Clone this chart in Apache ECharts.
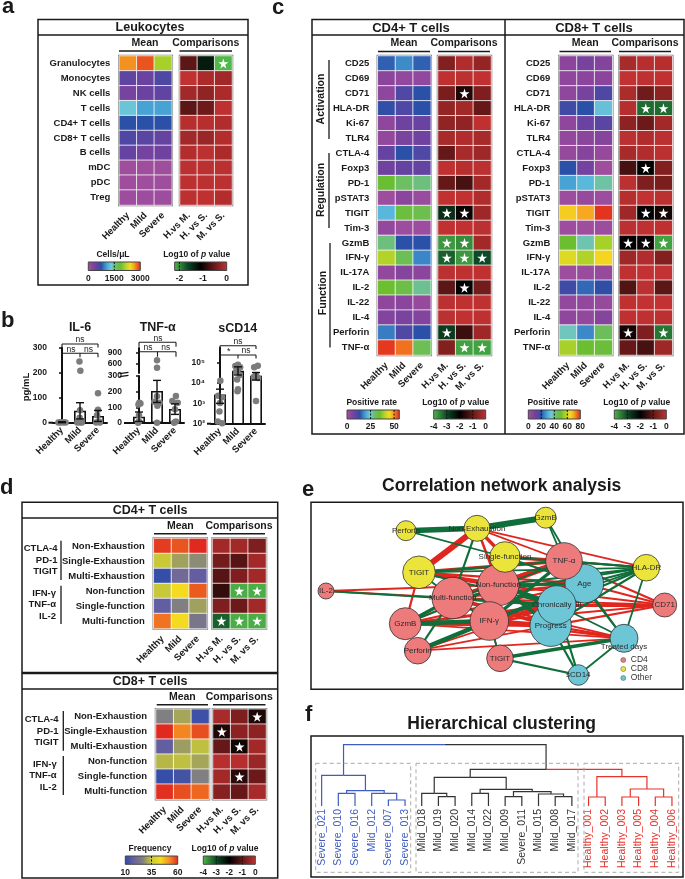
<!DOCTYPE html>
<html>
<head>
<meta charset="utf-8">
<style>
  html, body { margin: 0; padding: 0; background: #fff; }
  #chart { width: 685px; height: 879px; }
</style>
<script src="https://cdn.jsdelivr.net/npm/echarts@6/dist/echarts.min.js"></script>
</head>
<body>
<div id="chart"></div>
<script>
// ---- data ----
const groupCols = ['Healthy', 'Mild', 'Severe']
const compCols = ['H.vs M.', 'H. vs S.', 'M. vs S.']

// panel a
const leukoRows = ['Granulocytes', 'Monocytes', 'NK cells', 'T cells', 'CD4+ T cells', 'CD8+ T cells', 'B cells', 'mDC', 'pDC', 'Treg']
const leukoMean = [[2670, 2850, 2100], [510, 450, 600], [360, 450, 510], [1290, 1080, 1080], [750, 750, 750], [600, 540, 480], [480, 390, 420], [60, 60, 60], [60, 60, 60], [90, 90, 90]]
const leukoComp = [[-0.6, -1.3, -2.2], [-0.02, -0.15, -0.2], [-0.2, -0.3, -0.15], [-0.6, -0.5, -0.03], [-0.08, -0.08, -0.12], [-0.2, -0.25, -0.1], [-0.1, -0.05, -0.15], [-0.05, -0.05, -0.05], [-0.05, -0.05, -0.05], [-0.05, -0.03, -0.1]]
const leukoStars = [[2, 0]]

// panel b
const il6Bars = [2, 48, 27]
const il6Err = [[0, 0, 4], [1, 15, 80], [2, 5, 49]]
const il6Points = [[-0.2, 1], [-0.1, 2], [0, 1], [0.1, 2], [0.2, 1], [0.97, 245], [1.02, 208], [1, 50], [0.98, 20], [0.85, 1], [1.1, 1], [1, 1], [2, 118], [2, 52], [1.95, 30], [2.05, 5], [1.9, 1], [2.1, 1]]
const tnfBars = [40, 205, 90]
const tnfErr = [[0, 10, 70], [1, 131, 272], [2, 55, 122]]
const tnfLowPoints = [[0.02, 130], [0.08, 125], [-0.03, 118], [0, 50], [0, 10], [-0.05, 1], [1, 170], [0.85, 135], [1.15, 130], [1.02, 110], [1, 1], [2.05, 172], [1.85, 140], [2.15, 130], [2, 88], [2.05, 10], [1.95, 1]]
const tnfHighPoints = [[1, 700], [1, 500]]
const scdBars = [2700, 40000, 23000]
const scdErr = [[0, 1000, 5000], [1, 25000, 63000], [2, 14000, 33000]]
const scdPoints = [[0.02, 13000], [-0.1, 2400], [0.12, 2000], [0, 1050], [-0.03, 400], [-0.12, 130], [0.12, 105], [1, 80000], [0.85, 70000], [1.12, 60000], [1, 48000], [0.9, 38000], [1.1, 25000], [0.95, 15000], [1, 5000], [0.97, 4000], [2.1, 72000], [1.9, 60000], [2, 25000], [1.88, 20000], [2.12, 18000], [2, 1300]]

// panel c
const tcellRows = ['CD25', 'CD69', 'CD71', 'HLA-DR', 'Ki-67', 'TLR4', 'CTLA-4', 'Foxp3', 'PD-1', 'pSTAT3', 'TIGIT', 'Tim-3', 'GzmB', 'IFN-γ', 'IL-17A', 'IL-2', 'IL-22', 'IL-4', 'Perforin', 'TNF-α']
const cd4Mean = [[15, 18, 15], [4.4, 3.3, 3.3], [3.9, 11, 13.8], [13.2, 11, 13.8], [3.9, 7.7, 8.3], [3.3, 6.6, 7.7], [8.8, 13.8, 11], [7.7, 8.8, 8.8], [34, 30, 28.6], [1.7, 4.4, 2.2], [22, 33, 31.4], [3.3, 1.7, 1.7], [28.6, 13.8, 13.8], [39.6, 30.8, 17.6], [3.3, 5, 4.4], [34.7, 31.9, 27.5], [3.9, 4.4, 2.8], [5.5, 6.6, 5.5], [17, 11, 13.8], [54.5, 51, 30.8]]
const cd4Comp = [[-0.7, -0.2, -0.5], [-0.05, -0.1, -0.03], [-0.8, -1.7, -0.75], [-0.5, -0.35, -1], [-0.55, -0.55, -0.05], [-0.3, -0.2, -0.3], [-1, -0.3, -0.4], [-0.05, -0.15, -0.1], [-1, -1.3, -0.35], [-0.03, -0.03, -0.2], [-2.6, -1.9, -0.4], [-0.03, -0.03, -0.1], [-3.7, -3.6, -0.35], [-3.2, -3.7, -3], [-0.1, -0.05, -0.05], [-1.1, -2, -0.85], [-0.1, -0.05, -0.05], [-0.1, -0.03, -0.05], [-2.8, -1.4, -0.4], [-0.7, -3.8, -3.8]]
const cd4Stars = [[1, 2], [0, 10], [1, 10], [0, 12], [1, 12], [0, 13], [1, 13], [2, 13], [1, 15], [0, 18], [1, 19], [2, 19]]
const cd8Mean = [[6.4, 9.6, 8], [5.6, 6.4, 6.4], [5.6, 9.6, 16], [17.6, 20, 33.6], [5.6, 12, 14.4], [4.8, 6.4, 7.2], [4, 7.2, 4], [20, 10.4, 1.6], [28.8, 32, 38.4], [2.4, 4, 2.4], [65.6, 69.6, 79], [2.4, 1.6, 2.4], [49.6, 37.6, 56], [61.6, 56.8, 64.8], [2.4, 3.2, 4], [17.6, 22.4, 19.2], [4.8, 4.8, 4], [5.6, 4.8, 7.2], [36.8, 25.6, 44], [56, 49.6, 48]]
const cd8Comp = [[-0.3, -0.15, -0.15], [-0.02, -0.05, -0.03], [-0.25, -0.9, -0.6], [-0.15, -3.3, -3.3], [-0.6, -0.95, -0.35], [-0.1, -0.2, -0.1], [-0.3, -0.2, -0.1], [-1.3, -2, -0.7], [-0.1, -0.75, -0.8], [-0.15, -0.02, -0.1], [-0.4, -2, -1.8], [-0.1, -0.05, -0.05], [-2, -1.9, -3.8], [-0.4, -0.2, -0.7], [-0.05, -0.02, -0.02], [-1.2, -0.1, -1.1], [-0.05, -0.02, -0.02], [-0.05, -0.05, -0.1], [-1.8, -0.75, -3.4], [-1, -1.3, -0.4]]
const cd8Stars = [[1, 3], [2, 3], [1, 7], [1, 10], [2, 10], [0, 12], [1, 12], [2, 12], [0, 18], [2, 18]]

// panel d
const funcRows = ['Non-Exhaustion', 'Single-Exhaustion', 'Multi-Exhaustion', 'Non-function', 'Single-function', 'Multi-function']
const funcCd4Mean = [[58.5, 56.5, 60], [35, 30.5, 28], [11.5, 21, 17.5], [35, 43.5, 56], [17.5, 26.5, 30.5], [54, 43.5, 24]]
const funcCd4Comp = [[-0.35, -0.35, -0.75], [-0.85, -1.15, -0.35], [-1.15, -0.75, -0.35], [-1.5, -3.9, -3.9], [-0.75, -0.95, -0.35], [-3.2, -3.9, -3.9]]
const funcCd4Stars = [[1, 3], [2, 3], [0, 5], [1, 5], [2, 5]]
const funcCd8Mean = [[26.5, 31, 12.5], [60, 52.5, 57], [17.5, 30, 34], [33, 34, 31], [11.5, 13.5, 26.5], [59.5, 57, 55]]
const funcCd8Comp = [[-0.3, -0.75, -1.7], [-1.7, -0.6, -0.6], [-1, -1.8, -0.35], [-0.15, -0.15, -0.45], [-0.35, -1.6, -0.95], [-0.65, -1, -0.3]]
const funcCd8Stars = [[2, 0], [0, 1], [1, 2], [1, 4]]

// panel e, nodes listed back to front
const netIds = ['Prog', 'Age', 'CI', 'TD', 'sCD14', 'CD71', 'TNF', 'MF', 'NF', 'IFN', 'Gz4', 'Per4', 'TIG4', 'IL2', 'Per8', 'NE', 'Gz8', 'TIG8', 'SF', 'HLA']
const netLabels = ['Progress', 'Age', 'Chronically  ill', 'Treated days', 'sCD14', 'CD71', 'TNF-α', 'Multi-function', 'Non-function', 'IFN-γ', 'GzmB', 'Perforin', 'TIGIT', 'IL-2', 'Perforin', 'Non-Exhaustion', 'GzmB', 'TIGIT', 'Single-function', 'HLA-DR']
const netGroups = [2, 2, 2, 2, 2, 0, 0, 0, 0, 0, 0, 0, 0, 0, 1, 1, 1, 1, 1, 1]
const netX = [239.7, 273.3, 245.7, 313, 267.3, 353.7, 253, 141.7, 187.3, 178.3, 94.3, 106.7, 189, 15, 95, 166, 234.7, 108, 194, 335.3]
const netY = [123.7, 81.7, 103, 136.3, 173, 103, 59, 96, 83, 119, 121.7, 148.7, 156.3, 89, 28.7, 26.3, 15.7, 70.3, 55, 65.7]
const netDegree = [20.7, 19.3, 19.3, 14, 10.3, 12, 18.3, 20.7, 20.7, 19.3, 16, 13.3, 13.3, 8, 10, 13, 10.5, 16.3, 15.3, 13.3]
const netRed = [['NE', 'TIG8', 6], ['NE', 'SF', 3.5], ['NE', 'NF', 2.5], ['NE', 'TNF', 1.8], ['NE', 'HLA', 1.8], ['TIG8', 'NF', 4.5], ['TIG8', 'TNF', 3.5], ['TIG8', 'Gz4', 2.2], ['TIG8', 'Age', 2.2], ['SF', 'TNF', 3.5], ['SF', 'NF', 2.2], ['IL2', 'MF', 1.8], ['IL2', 'NF', 1.8], ['TNF', 'NF', 6], ['TNF', 'MF', 3.5], ['TNF', 'CD71', 2.2], ['TNF', 'HLA', 1.8], ['Age', 'NF', 3.5], ['Age', 'MF', 3], ['Age', 'CD71', 2.2], ['CI', 'MF', 3.5], ['CI', 'IFN', 4.5], ['CI', 'Gz4', 3], ['CI', 'CD71', 3], ['Prog', 'IFN', 4.5], ['Prog', 'MF', 3.5], ['Prog', 'Gz4', 3], ['Prog', 'Per4', 1.8], ['Prog', 'CD71', 2.2], ['Prog', 'TD', 2.2], ['IFN', 'CD71', 2.2], ['IFN', 'TD', 2.2], ['IFN', 'Gz4', 3.5], ['Gz4', 'NF', 1.8], ['Gz4', 'TD', 1.8], ['Gz4', 'Age', 2.2], ['Per4', 'TD', 1.8], ['Per4', 'CI', 1.8], ['MF', 'TD', 1.8], ['MF', 'CD71', 1.8], ['NF', 'CD71', 1.8], ['TIG4', 'IFN', 1.8]]
const netGreen = [['Per8', 'NE', 5.5], ['NE', 'Gz8', 6], ['Per8', 'SF', 1.8], ['Gz8', 'TNF', 1.8], ['Gz8', 'Age', 1.8], ['NE', 'MF', 2.2], ['SF', 'NF', 2.2], ['SF', 'HLA', 1.8], ['SF', 'Age', 2.2], ['TIG8', 'HLA', 1.8], ['TIG8', 'TNF', 2.2], ['TIG8', 'MF', 1.8], ['TIG8', 'CI', 2.2], ['IL2', 'CI', 2.2], ['TNF', 'HLA', 2.2], ['Age', 'HLA', 2.2], ['CI', 'HLA', 2.2], ['Prog', 'HLA', 2.2], ['NF', 'HLA', 2.2], ['MF', 'HLA', 1.8], ['IFN', 'HLA', 1.8], ['HLA', 'TD', 1.8], ['IFN', 'TNF', 3.5], ['IFN', 'Age', 3.5], ['NF', 'CI', 4.5], ['NF', 'Prog', 3.5], ['NF', 'Age', 2.2], ['MF', 'NF', 2.2], ['MF', 'IFN', 2.2], ['MF', 'CI', 2.2], ['IFN', 'NF', 2.2], ['Gz4', 'IFN', 4.5], ['Gz4', 'MF', 3.5], ['Gz4', 'TNF', 1.8], ['Per4', 'MF', 2.2], ['Per4', 'IFN', 4.5], ['TIG4', 'TD', 3.5], ['TIG4', 'sCD14', 2.2], ['TIG4', 'IFN', 1.8], ['Prog', 'sCD14', 2.2], ['CI', 'sCD14', 2.2], ['TD', 'sCD14', 1.8], ['CI', 'TD', 1.8], ['Age', 'TD', 1.8], ['TNF', 'TD', 1.8]]
const netClasses = ['CD4', 'CD8', 'Other']

// panel f
const dendroLeaves = ['Severe_021', 'Severe_010', 'Severe_016', 'Mild_012', 'Severe_007', 'Severe_013', 'Mild_018', 'Mild_019', 'Mild_020', 'Mild_014', 'Mild_022', 'Mild_009', 'Severe_011', 'Mild_015', 'Mild_008', 'Mild_017', 'Healthy_001', 'Healthy_002', 'Healthy_003', 'Healthy_005', 'Healthy_004', 'Healthy_006']
const dendroCluster = [0, 0, 0, 0, 0, 0, 1, 1, 1, 1, 1, 1, 1, 1, 1, 1, 2, 2, 2, 2, 2, 2]
// [left child, right child, height, left colour cluster, right colour cluster]; ids from 22 up are earlier merges
const dendroMerges = [
  [1, 2, 38, 0, 0], [4, 5, 18, 0, 0], [3, 23, 38, 0, 0], [22, 24, 46, 0, 0], [0, 25, 92, 0, 0],
  [7, 8, 28, 1, 1], [6, 27, 38, 1, 1], [9, 10, 38, 1, 1], [11, 12, 28, 1, 1], [14, 15, 28, 1, 1],
  [13, 31, 36, 1, 1], [30, 32, 43, 1, 1], [29, 33, 50, 1, 1], [28, 34, 86, 1, 1],
  [16, 17, 27, 2, 2], [18, 19, 27, 2, 2], [20, 21, 27, 2, 2], [37, 38, 51, 2, 2], [36, 39, 88, 2, 2],
  [35, 40, 110, 1, 2], [26, 41, 184, 0, 1]
]

// ---- palettes ----
const FONT = '"Liberation Sans", Arial, sans-serif'
const meanStops = [[0, '#a6519d'], [0.08, '#8b459c'], [0.15, '#6a42a0'], [0.2, '#4e48a4'], [0.25, '#2a50a8'], [0.32, '#3c88c8'], [0.38, '#4eb0dc'], [0.44, '#72c8d6'], [0.5, '#6cc08c'], [0.56, '#6cbe50'], [0.62, '#6abe30'], [0.72, '#b8d428'], [0.8, '#f4dc20'], [0.87, '#f5a820'], [0.92, '#f07020'], [0.96, '#e84a1e'], [1, '#e02a20']]
const freqStops = [[0, '#2a4aa8'], [0.167, '#6a60a0'], [0.333, '#808080'], [0.5, '#c8c838'], [0.667, '#f4dc20'], [0.833, '#f59020'], [1, '#e02a20']]
const pStops = [[0, '#50b848'], [0.25, '#0c4a26'], [0.5, '#000000'], [0.75, '#661818'], [1, '#c43232']]

function evenColors(stops) {
  const out = []
  for (let k = 0; k <= 100; k++) {
    const t = k / 100
    let i = 0
    while (i < stops.length - 2 && t > stops[i + 1][0]) i++
    const a = stops[i]
    const b = stops[i + 1]
    out.push(echarts.color.lerp((t - a[0]) / (b[0] - a[0]), [a[1], b[1]]))
  }
  return out
}

const scales = {
  leukoMean: { min: 0, max: 3000, stops: meanStops, series: [] },
  leukoP: { min: -2.2, max: 0, stops: pStops, series: [] },
  cd4Rate: { min: 0, max: 55.5, stops: meanStops, series: [] },
  cd8Rate: { min: 0, max: 80, stops: meanStops, series: [] },
  freq: { min: 10, max: 60, stops: freqStops, series: [] },
  p: { min: -4, max: 0, stops: pStops, series: [] }
}

// ---- option parts ----
const grids = []
const xAxes = []
const yAxes = []
const series = []
const shapes = []

const STAR = 'path://M50 0 L61 35 L98 35 L68 57 L79 91 L50 70 L21 91 L32 57 L2 35 L39 35 Z'

function txt(x, y, text, size, opt) {
  opt = opt || {}
  shapes.push({
    type: 'text', x: x, y: y, rotation: opt.rotation || 0, z: 20,
    style: {
      text: text, textAlign: opt.align || 'center', textVerticalAlign: 'middle',
      font: (opt.weight || 'bold') + ' ' + size + 'px ' + FONT, fill: opt.color || '#1a1a1a'
    }
  })
}

function line(x1, y1, x2, y2, width, color, dash) {
  shapes.push({
    type: 'line', z: 20, shape: { x1: x1, y1: y1, x2: x2, y2: y2 },
    style: { stroke: color || '#1a1a1a', lineWidth: width || 1, lineDash: dash }
  })
}

function frame(x1, y1, x2, y2, width) {
  shapes.push({
    type: 'rect', z: 20, shape: { x: x1, y: y1, width: x2 - x1, height: y2 - y1 },
    style: { fill: 'none', stroke: '#1a1a1a', lineWidth: width || 1.5 }
  })
}

function heat(left, top, width, height, cols, rows, matrix, scaleKey, stars, labelRight) {
  const g = grids.length
  grids.push({ left: left, top: top, width: width, height: height, show: true, borderColor: '#7a7a7a', borderWidth: 2.5, backgroundColor: 'transparent' })
  xAxes.push({
    type: 'category', gridIndex: g, data: cols, axisLine: { show: false }, axisTick: { show: false }, splitLine: { show: false },
    axisLabel: { rotate: 45, interval: 0, margin: 9, fontFamily: FONT, fontWeight: 'bold', fontSize: 9.5, color: '#1a1a1a' }
  })
  yAxes.push({
    type: 'category', gridIndex: g, data: rows, inverse: true, axisLine: { show: false }, axisTick: { show: false }, splitLine: { show: false },
    axisLabel: { show: !!labelRight, interval: 0, margin: labelRight || 0, fontFamily: FONT, fontWeight: 'bold', fontSize: 9.5, color: '#1a1a1a' }
  })
  const cells = []
  matrix.forEach(function (row, y) {
    row.forEach(function (v, x) { cells.push([x, y, v]) })
  })
  scales[scaleKey].series.push(series.length)
  series.push({
    type: 'heatmap', xAxisIndex: xAxes.length - 1, yAxisIndex: yAxes.length - 1, data: cells, z: 2,
    itemStyle: { borderColor: 'rgba(255,255,255,0.85)', borderWidth: 0.9 }, silent: true
  })
  if (stars) {
    series.push({
      type: 'scatter', xAxisIndex: xAxes.length - 1, yAxisIndex: yAxes.length - 1, data: stars, z: 5,
      symbol: STAR, symbolSize: 10, itemStyle: { color: '#fff', opacity: 1 }, silent: true
    })
  }
}

function colorBar(x1, x2, y1, y2, title, titleX, titleY, scale, stops, ticks, dashes, labelY) {
  const toX = function (v) { return x1 + (v - scale.min) / (scale.max - scale.min) * (x2 - x1) }
  shapes.push({
    type: 'rect', z: 20, shape: { x: x1, y: y1, width: x2 - x1, height: y2 - y1 },
    style: {
      stroke: '#444', lineWidth: 1,
      fill: new echarts.graphic.LinearGradient(0, 0, 1, 0, stops.map(function (s) { return { offset: s[0], color: s[1] } }))
    }
  })
  dashes.forEach(function (v) { line(toX(v), y1, toX(v), y2, 1, '#111', [2, 1.5]) })
  ticks.forEach(function (v) { txt(toX(v), labelY, String(v), 8.5) })
  if (title === 'log') {
    // the italic p needs its own run of text
    shapes.push({
      type: 'text', z: 20, x: titleX, y: titleY,
      style: {
        text: '{b|Log10 of }{i|p}{b| value}', textAlign: 'center', textVerticalAlign: 'middle',
        rich: {
          b: { font: 'bold 8.5px ' + FONT, fill: '#1a1a1a' },
          i: { font: 'italic bold 8.5px ' + FONT, fill: '#1a1a1a' }
        }
      }
    })
  } else {
    txt(titleX, titleY, title, 8.5)
  }
}

function matrixHeader(meanX1, meanX2, compX1, compX2, textY, ruleY) {
  txt((meanX1 + meanX2) / 2, textY, 'Mean', 10.5)
  txt((compX1 + compX2) / 2, textY, 'Comparisons', 10.5)
  line(meanX1, ruleY, meanX2, ruleY, 1.4)
  line(compX1, ruleY, compX2, ruleY, 1.4)
}

// one bar panel: visible category axis and a hidden value axis for jittered points and whiskers
function barAxes(left, top, height, yAxis, showX) {
  const g = grids.length
  grids.push({ left: left, top: top, width: 54, height: height })
  xAxes.push({
    type: 'category', gridIndex: g, data: groupCols, show: showX,
    axisLine: { onZero: false, lineStyle: { color: '#111', width: 2 } }, axisTick: { show: false },
    axisLabel: { rotate: 45, interval: 0, margin: 6, fontFamily: FONT, fontWeight: 'bold', fontSize: 9.5, color: '#1a1a1a' }
  })
  const xCat = xAxes.length - 1
  xAxes.push({ type: 'value', gridIndex: g, min: -0.5, max: 2.5, show: false })
  yAxes.push(Object.assign({
    gridIndex: g, axisLine: { show: true, lineStyle: { color: '#111', width: 2 } },
    axisTick: { show: true, length: 3, lineStyle: { color: '#111', width: 1.5 } }, splitLine: { show: false }
  }, yAxis))
  return { xCat: xCat, xVal: xCat + 1, y: yAxes.length - 1 }
}

function bars(ax, values, errs, points) {
  series.push({
    type: 'bar', xAxisIndex: ax.xCat, yAxisIndex: ax.y, data: values, barWidth: 12, z: 2, silent: true,
    itemStyle: { color: '#fff', borderColor: '#111', borderWidth: 1.6 }
  })
  dots(ax, points)
  series.push({
    type: 'custom', xAxisIndex: ax.xVal, yAxisIndex: ax.y, data: errs, z: 4, silent: true,
    encode: { x: 0, y: [1, 2] },
    renderItem: function (params, api) {
      const low = api.coord([api.value(0), api.value(1)])
      const high = api.coord([api.value(0), api.value(2)])
      const st = { stroke: '#111', lineWidth: 1.4, fill: 'none' }
      return {
        type: 'group', children: [
          { type: 'line', shape: { x1: low[0], y1: low[1], x2: high[0], y2: high[1] }, style: st },
          { type: 'line', shape: { x1: low[0] - 4, y1: low[1], x2: low[0] + 4, y2: low[1] }, style: st },
          { type: 'line', shape: { x1: high[0] - 4, y1: high[1], x2: high[0] + 4, y2: high[1] }, style: st }
        ]
      }
    }
  })
}

function dots(ax, points) {
  series.push({
    type: 'scatter', xAxisIndex: ax.xVal, yAxisIndex: ax.y, data: points, z: 3, silent: true,
    symbolSize: 6.5, clip: false, itemStyle: { color: '#7c7c7c', opacity: 1 }
  })
}

function bracket(x1, x2, y, drop, center) {
  line(x1, y, x2, y, 1.1)
  line(x1, y, x1, y + drop, 1.1)
  line(x2, y, x2, y + drop, 1.1)
  if (center) line((x1 + x2) / 2, y, (x1 + x2) / 2, y + drop, 1.1)
}

// ---- panel a ----
txt(2, 7, 'a', 22, { align: 'left' })
frame(38, 19.5, 248, 285)
line(38, 35, 248, 35, 1.5)
txt(150, 28, 'Leukocytes', 12.5)
matrixHeader(119, 171, 179.5, 232, 43.5, 51)
heat(119.3, 56, 52.5, 149, groupCols, leukoRows, leukoMean, 'leukoMean', null, 9)
heat(180, 56, 52, 149, compCols, leukoRows, leukoComp, 'leukoP', leukoStars)
colorBar(88.3, 140.3, 262, 270.5, 'Cells/μL', 113, 255, scales.leukoMean, meanStops, [0, 1500, 3000], [1500], 279)
colorBar(174.7, 226.7, 262, 270.5, 'log', 196.7, 255, scales.leukoP, pStops, [-2, -1, 0], [-2, -1], 279)

// ---- panel b ----
txt(1, 321, 'b', 22, { align: 'left' })
txt(80, 328, 'IL-6', 12.5)
txt(157.7, 328, 'TNF-α', 12.5)
txt(237.7, 329, 'sCD14', 12.5)
txt(26, 387, 'pg/mL', 9.5, { rotation: Math.PI / 2 })

const il6Ax = barAxes(53, 347.7, 75, { type: 'value', min: 0, max: 300, interval: 100, offset: 4, axisLabel: { margin: 2, fontFamily: FONT, fontWeight: 'bold', fontSize: 8.5, color: '#1a1a1a' } }, true)
bars(il6Ax, il6Bars, il6Err, il6Points)
line(48.5, 422.7, 53, 422.7, 2, '#111')

const tnfLowAx = barAxes(130, 376, 47, { type: 'value', min: 0, max: 300, interval: 100, offset: 6, axisLabel: { margin: 2, fontFamily: FONT, fontWeight: 'bold', fontSize: 8.5, color: '#1a1a1a' } }, true)
bars(tnfLowAx, tnfBars, tnfErr, tnfLowPoints)
const tnfHighAx = barAxes(130, 348, 25, {
  type: 'value', min: 361, max: 1025, offset: 6,
  axisTick: { show: true, length: 3, customValues: [600, 900], lineStyle: { color: '#111', width: 1.5 } },
  axisLabel: { customValues: [600, 900], margin: 2, fontFamily: FONT, fontWeight: 'bold', fontSize: 8.5, color: '#1a1a1a' }
}, false)
dots(tnfHighAx, tnfHighPoints)
line(124, 423, 130, 423, 2, '#111')
line(119.5, 373.6, 128.5, 372.4, 1.2, '#111')
line(119.5, 376.6, 128.5, 375.4, 1.2, '#111')

const superDigits = { 2: '²', 3: '³', 4: '⁴', 5: '⁵' }
const scdTicks = [100, 1000, 10000, 100000]
const scdAx = barAxes(211, 347.7, 76, {
  type: 'log', logBase: 10, min: 100, max: 550000, offset: 4,
  axisTick: { show: true, length: 3, customValues: scdTicks, lineStyle: { color: '#111', width: 1.5 } },
  axisLabel: {
    customValues: scdTicks, margin: 2, fontFamily: FONT, fontWeight: 'bold', fontSize: 8.5, color: '#1a1a1a',
    formatter: function (v) { return '10' + superDigits[Math.round(Math.log10(v))] }
  }
}, true)
bars(scdAx, scdBars, scdErr, scdPoints)
line(207, 423.7, 211, 423.7, 2, '#111')

bracket(62, 98, 344, 3.5)
bracket(62, 98, 353.3, 4, true)
txt(80, 340, 'ns', 8.5, { weight: 'normal' })
txt(71, 349.5, 'ns', 8.5, { weight: 'normal' })
txt(88.5, 349.5, 'ns', 8.5, { weight: 'normal' })
bracket(139, 176, 342.3, 4.4)
bracket(139, 176, 351.7, 5, true)
txt(158, 338.5, 'ns', 8.5, { weight: 'normal' })
txt(148, 347.5, 'ns', 8.5, { weight: 'normal' })
txt(165.7, 347.5, 'ns', 8.5, { weight: 'normal' })
bracket(220, 256, 345.7, 3.4)
bracket(220, 256, 355, 3.4, true)
txt(238, 341.5, 'ns', 8.5, { weight: 'normal' })
txt(228.7, 352, '*', 9, { weight: 'normal' })
txt(246, 351, 'ns', 8.5, { weight: 'normal' })

// ---- panel c ----
txt(272, 8, 'c', 22, { align: 'left' })
frame(312, 19.5, 684, 434)
line(312, 35, 684, 35, 1.5)
line(505, 19.5, 505, 434, 1.5)
txt(411, 28, 'CD4+ T cells', 13)
txt(594, 28, 'CD8+ T cells', 13)
matrixHeader(378, 430, 438, 490, 43.5, 51.5)
matrixHeader(559.5, 611, 619, 671, 43.5, 51.5)
heat(377.8, 56, 53, 299, groupCols, tcellRows, cd4Mean, 'cd4Rate', null, 8.5)
heat(438, 56, 53, 299, compCols, tcellRows, cd4Comp, 'p', cd4Stars)
heat(559.3, 56, 53, 299, groupCols, tcellRows, cd8Mean, 'cd8Rate', null, 9)
heat(619.3, 56, 53, 299, compCols, tcellRows, cd8Comp, 'p', cd8Stars)
txt(320.7, 99, 'Activation', 10.5, { rotation: Math.PI / 2 })
line(329, 60, 329, 139, 1.3)
txt(320.7, 190, 'Regulation', 10.5, { rotation: Math.PI / 2 })
line(329, 153, 329, 228, 1.3)
txt(323, 293, 'Function', 10.5, { rotation: Math.PI / 2 })
line(330, 243, 330, 347.6, 1.3)
colorBar(347, 399.3, 410, 419, 'Positive rate', 371.7, 403, scales.cd4Rate, meanStops, [0, 25, 50], [25, 50], 427)
colorBar(433.7, 485.7, 410, 419, 'log', 455.7, 403, scales.p, pStops, [-4, -3, -2, -1, 0], [-3, -1], 427)
colorBar(528.3, 580.3, 410, 419, 'Positive rate', 552.7, 403, scales.cd8Rate, meanStops, [0, 20, 40, 60, 80], [20, 40, 60], 427)
colorBar(614.3, 666.3, 410, 419, 'log', 636.7, 403, scales.p, pStops, [-4, -3, -2, -1, 0], [-3, -1], 427)

// ---- panel d ----
txt(0, 488, 'd', 22, { align: 'left' })
frame(22, 502.3, 277.7, 672.5)
frame(22, 673.5, 277.7, 878)
line(22, 518, 277.7, 518, 1.5)
line(22, 689, 277.7, 689, 1.5)
txt(150, 511, 'CD4+ T cells', 12.5)
txt(150, 682, 'CD8+ T cells', 12.5)
matrixHeader(154, 206.7, 213, 265, 526, 533.7)
matrixHeader(156.7, 208, 213, 265.5, 697, 704.7)
heat(153.8, 538.5, 53, 90, groupCols, funcRows, funcCd4Mean, 'freq', null, 9)
heat(212.5, 538.5, 53.5, 90, compCols, funcRows, funcCd4Comp, 'p', funcCd4Stars)
heat(156, 709.2, 53, 90, groupCols, funcRows, funcCd8Mean, 'freq', null, 9)
heat(213, 709.2, 53, 90, compCols, funcRows, funcCd8Comp, 'p', funcCd8Stars)
txt(57.5, 548.7, 'CTLA-4', 9.5, { align: 'right' })
txt(57.5, 560, 'PD-1', 9.5, { align: 'right' })
txt(57.5, 571.7, 'TIGIT', 9.5, { align: 'right' })
line(61, 540.7, 61, 580, 1.3)
txt(56, 593, 'IFN-γ', 9.5, { align: 'right' })
txt(56, 604.7, 'TNF-α', 9.5, { align: 'right' })
txt(56, 616.7, 'IL-2', 9.5, { align: 'right' })
line(61, 585.7, 61, 624, 1.3)
txt(58.5, 719.3, 'CTLA-4', 9.5, { align: 'right' })
txt(58.5, 731, 'PD-1', 9.5, { align: 'right' })
txt(58.5, 742.3, 'TIGIT', 9.5, { align: 'right' })
line(63.3, 711, 63.3, 750.7, 1.3)
txt(56.7, 764.3, 'IFN-γ', 9.5, { align: 'right' })
txt(56.7, 775.7, 'TNF-α', 9.5, { align: 'right' })
txt(56.7, 787.3, 'IL-2', 9.5, { align: 'right' })
line(63.3, 756, 63.3, 795, 1.3)
colorBar(125.3, 177.7, 856, 864.3, 'Frequency', 150, 849, scales.freq, freqStops, [10, 35, 60], [35], 872.7)
colorBar(203.3, 255.3, 856, 864.3, 'log', 225, 848.7, scales.p, pStops, [-4, -3, -2, -1, 0], [-3, -1], 872.7)

// ---- panel e ----
txt(302, 490, 'e', 22, { align: 'left' })
txt(501.7, 485.7, 'Correlation network analysis', 17.5)
frame(311, 502.3, 683, 689.3)
const netGrid = grids.length
grids.push({ left: 311, top: 502, width: 372, height: 187 })
xAxes.push({ type: 'value', gridIndex: netGrid, min: 0, max: 372, show: false })
yAxes.push({ type: 'value', gridIndex: netGrid, min: 0, max: 187, inverse: true, show: false })
const netNodes = netIds.map(function (id, i) {
  return {
    id: id, name: netLabels[i], value: [netX[i], netY[i]], category: netGroups[i], symbolSize: netDegree[i] * 2,
    label: id === 'TD' ? { offset: [0, 8] } : undefined
  }
})
const toLinks = function (list, color) {
  return list.map(function (l) {
    return { source: l[0], target: l[1], lineStyle: { color: color, width: l[2], opacity: 1, curveness: 0 } }
  })
}
series.push({
  type: 'graph', coordinateSystem: 'cartesian2d', xAxisIndex: xAxes.length - 1, yAxisIndex: yAxes.length - 1,
  layout: 'none', silent: true, z: 3, symbol: 'circle',
  categories: [
    { name: netClasses[0], itemStyle: { color: '#ee7b7c' } },
    { name: netClasses[1], itemStyle: { color: '#ebe43a' } },
    { name: netClasses[2], itemStyle: { color: '#6cc6d6' } }
  ],
  itemStyle: { borderColor: '#333', borderWidth: 0.8 },
  label: { show: true, position: 'inside', fontFamily: FONT, fontSize: 8, color: '#2a2a2a' },
  data: netNodes,
  links: toLinks(netRed, '#e0261e').concat(toLinks(netGreen, '#0f6e3a'))
})

// ---- panel f ----
txt(305, 715, 'f', 22, { align: 'left' })
txt(501.7, 724, 'Hierarchical clustering', 17.5)
frame(311, 736, 683, 877)
shapes.push({ type: 'rect', z: 20, shape: { x: 315.7, y: 763.3, width: 95, height: 109 }, style: { fill: 'none', stroke: '#aaa', lineWidth: 1, lineDash: [4, 3] } })
shapes.push({ type: 'rect', z: 20, shape: { x: 416, y: 763.3, width: 162, height: 109 }, style: { fill: 'none', stroke: '#aaa', lineWidth: 1, lineDash: [4, 3] } })
shapes.push({ type: 'rect', z: 20, shape: { x: 584, y: 763.3, width: 94.7, height: 109 }, style: { fill: 'none', stroke: '#aaa', lineWidth: 1, lineDash: [4, 3] } })

const clusterColors = ['#3f5cc0', '#333333', '#e8312a']
const dGrid = grids.length
grids.push({ left: 313.3, top: 744.7, width: 367, height: 61.3 })
xAxes.push({
  type: 'category', gridIndex: dGrid, data: dendroLeaves, axisLine: { show: false }, axisTick: { show: false },
  axisLabel: {
    rotate: 90, interval: 0, margin: 3, fontFamily: FONT, fontSize: 10.5,
    color: function (v, i) { return clusterColors[dendroCluster[i]] }
  }
})
xAxes.push({ type: 'value', gridIndex: dGrid, min: -0.5, max: 21.5, show: false })
yAxes.push({ type: 'value', gridIndex: dGrid, min: 0, max: 184, show: false })

// x and height of every node in the tree, leaves first
const dendroPos = dendroLeaves.map(function (n, i) { return [i, 0] })
const dendroData = dendroMerges.map(function (m) {
  const a = dendroPos[m[0]]
  const b = dendroPos[m[1]]
  dendroPos.push([(a[0] + b[0]) / 2, m[2]])
  return [a[0], a[1], b[0], b[1], m[2], m[3], m[4]]
})
series.push({
  type: 'custom', xAxisIndex: xAxes.length - 1, yAxisIndex: yAxes.length - 1, data: dendroData, silent: true, z: 3, clip: false,
  encode: { x: [0, 2], y: 4 },
  renderItem: function (params, api) {
    const xa = api.value(0)
    const xb = api.value(2)
    const h = api.value(4)
    const mid = (xa + xb) / 2
    const path = function (pts, cluster) {
      return {
        type: 'polyline', shape: { points: pts.map(function (p) { return api.coord(p) }) },
        style: { stroke: clusterColors[cluster], lineWidth: 1.2, fill: 'none' }
      }
    }
    return {
      type: 'group', children: [
        path([[xa, api.value(1)], [xa, h], [mid, h]], api.value(5)),
        path([[xb, api.value(3)], [xb, h], [mid, h]], api.value(6))
      ]
    }
  }
})

const visualMaps = Object.keys(scales).map(function (k) {
  const s = scales[k]
  return { show: false, type: 'continuous', min: s.min, max: s.max, dimension: 2, seriesIndex: s.series, inRange: { color: evenColors(s.stops) } }
})

const chart = echarts.init(document.getElementById('chart'), null, { renderer: 'canvas' })
chart.setOption({
  animation: false,
  backgroundColor: '#fff',
  textStyle: { fontFamily: FONT },
  grid: grids,
  xAxis: xAxes,
  yAxis: yAxes,
  visualMap: visualMaps,
  legend: {
    data: netClasses, orient: 'vertical', left: 620.5, top: 655.5, itemWidth: 5, itemHeight: 5, itemGap: 0, icon: 'circle',
    selectedMode: false, itemStyle: { borderWidth: 0.5, borderColor: '#555' },
    textStyle: { fontFamily: FONT, fontSize: 8.5, color: '#333', padding: [0, 0, 0, 0] }, padding: 0
  },
  graphic: { elements: shapes },
  series: series
})
</script>
</body>
</html>
